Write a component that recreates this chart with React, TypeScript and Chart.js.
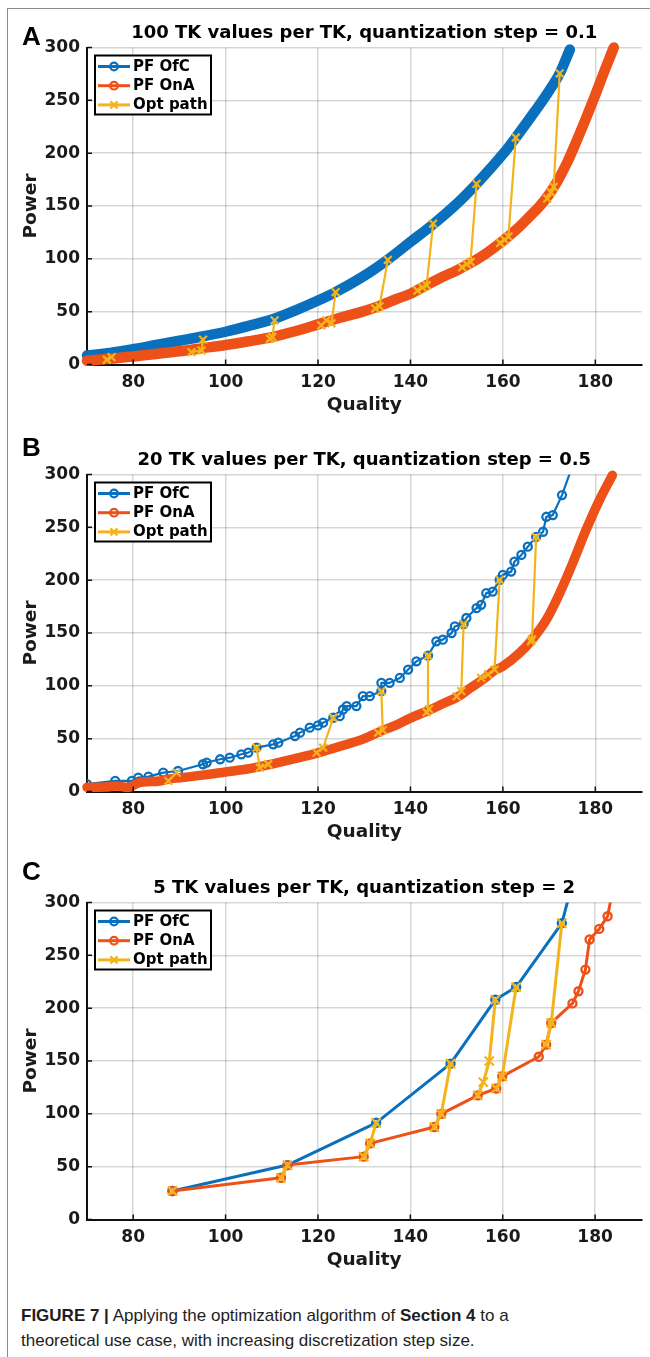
import React, { useEffect, useRef } from 'react';
import { Chart, registerables } from 'chart.js';

Chart.register(...registerables);

type P = [number, number];

const xTicks = [80, 100, 120, 140, 160, 180];
const yTicks = [0, 50, 100, 150, 200, 250, 300];
const legendLabels = ['PF OfC', 'PF OnA', 'Opt path'];
const panelTitles = [
  '100 TK values per TK, quantization step = 0.1',
  '20 TK values per TK, quantization step = 0.5',
  '5 TK values per TK, quantization step = 2',
];
const panelLetters = ['A', 'B', 'C'];

// Panel A (100 TK values per TK)
const ofcA: P[] = [
  [70, 8.5], [75, 11], [80, 14.5], [85, 18.5], [90, 22.5], [95, 26.5], [100, 31], [105, 36.5],
  [110, 42.5], [115, 51], [120, 60.5], [124, 69], [130, 84], [135, 99], [140, 116], [145, 133],
  [150, 152], [154.3, 171], [160, 199], [162.8, 214.8], [167, 240], [170, 259], [172.3, 275.5], [174.5, 298],
];
const onaA: P[] = [
  [70, 3.5], [75, 5.5], [80, 7.5], [85, 10], [90, 12.5], [95, 15.5], [100, 18.5], [105, 22],
  [110, 26], [115, 31.5], [120, 38], [125, 44.5], [130, 50.5], [133, 55], [137, 62], [140, 67],
  [143, 74], [147, 83], [150, 89], [153, 96], [156, 104], [160, 117], [163, 128], [166, 141],
  [168, 150], [170, 161], [172, 175], [174, 192], [176, 212], [178, 233], [180, 255], [182, 278], [184, 300],
];
const optA: P[][] = [
  [[74.3, 4.5], [75.3, 7]],
  [[92.6, 11.7], [94.8, 13.3], [95.1, 23.5]],
  [[109.6, 24.4], [110.1, 26], [110.6, 41.7]],
  [[120.7, 37], [121.8, 41.7], [122.9, 39], [123.8, 68.5]],
  [[132.4, 53], [133.3, 55], [135.1, 99]],
  [[141.5, 70], [142.6, 73], [143.5, 75], [144.9, 133.3]],
  [[151.2, 92], [152.2, 95], [153, 97], [154.3, 171]],
  [[159.4, 115], [160.4, 118], [161.2, 121], [162.8, 214.8]],
  [[169.6, 157], [170.4, 163], [171, 168], [172.3, 275.5]],
];

// Panel B (20 TK values per TK)
const ofcB: P[] = [
  [70, 7], [76.1, 10], [79.7, 10], [81.1, 13.2], [83.3, 14.1], [86.5, 17.9], [89.7, 19.4],
  [95.1, 25.8], [95.9, 27.4], [98.8, 30.5], [100.9, 32], [103.4, 35.2], [104.9, 36.8], [106.7, 41.5],
  [110.3, 44.6], [111.4, 46.2], [115, 52.5], [116.1, 55.7], [118.2, 60.4], [120, 62.5], [121.1, 65.1],
  [123.3, 69.8], [124.7, 71.3], [125.4, 77.6], [126.2, 80.8], [128.3, 80.8], [129.7, 90.2], [131.2, 90.2],
  [133.7, 95], [133.7, 102.8], [135.5, 102.8], [137.7, 107.5], [139.5, 115.4], [141.3, 123.2], [143.8, 128.6],
  [145.6, 142.1], [147, 143.7], [148.9, 150], [149.6, 156.2], [151.5, 158.5], [152.1, 164.2], [154.3, 173.6],
  [155.3, 176.7], [156.4, 187.7], [157.8, 189.2], [159.3, 200.3], [160, 205], [161.8, 208.1], [162.5, 217.5],
  [164, 223.9], [165.4, 231.7], [167.2, 241], [168.7, 245.8], [169.4, 260], [170.8, 261.6], [172.8, 280.5],
  [175.6, 315],
];
const onaB: P[] = [
  [70, 4], [75, 4.5], [76.1, 5.3], [78.9, 3.8], [81, 8], [85.8, 10], [87.9, 12], [90.1, 13],
  [95, 15.5], [100, 18.5], [105, 21.5], [110, 26], [115, 31], [120, 36.5], [125, 43], [130, 50],
  [133.5, 57], [137, 63], [140, 69.5], [143.8, 76.5], [147, 83], [150.6, 90.5], [153, 98], [155.7, 106],
  [158, 114], [160, 118.5], [163.6, 131], [166.3, 143.7], [169.4, 162.5], [172.3, 187.7], [175.1, 216],
  [178, 247.5], [180.9, 275.8], [183.7, 299.3],
];
const optB: P[][] = [
  [[87.6, 10], [89.4, 17.9]],
  [[106.7, 41.5], [107.4, 22.6], [109.2, 25.8]],
  [[119.7, 36.8], [121.1, 41.5], [123.3, 69.8]],
  [[133, 55.7], [134, 58], [133.7, 95]],
  [[143.5, 75], [144, 78], [143.8, 128.6]],
  [[150, 90], [151, 95], [151.5, 158.5]],
  [[155.3, 107.5], [156.8, 110.7], [158.2, 115.4], [159.3, 200.3]],
  [[166.1, 142], [166.3, 144], [167.2, 241]],
];

// Panel C (5 TK values per TK)
const ofcC: P[] = [
  [88.5, 27], [113.4, 51.5], [132.6, 91.5], [148.7, 147.5], [158.4, 208], [162.9, 220], [172.8, 280.5], [175.8, 330],
];
const onaC: P[] = [
  [88.5, 27], [112, 39.5], [113.4, 51.5], [129.9, 59.5], [131.3, 72], [145.2, 87.5], [146.7, 100],
  [154.6, 117.5], [158.6, 124], [159.9, 135.5], [167.8, 154], [169.4, 165.5], [170.5, 186], [175.1, 204.5],
  [176.4, 216], [177.9, 236.5], [178.8, 265], [180.9, 275], [182.7, 287], [184.2, 320],
];
const optC: P[][] = [
  [[88.5, 27]],
  [[112, 39.5], [113.4, 51.5]],
  [[129.9, 59.5], [131.3, 72], [132.6, 91.5]],
  [[145.2, 87.5], [146.7, 100], [148.7, 147.5]],
  [[154.6, 117.5], [155.8, 130], [157.1, 150], [158.4, 208]],
  [[158.6, 124], [159.9, 135.5], [162.9, 220]],
  [[169.4, 165.5], [170.5, 186], [172.8, 280.5]],
];

const BLUE = '#0A70BE';
const ORANGE = '#EE5118';
const YELLOW = '#F4B31A';
const FONT = '"DejaVu Sans", "Noto Sans", sans-serif';
const TEXT = '#1a1a1a';

const toXY = (pts: P[]) => pts.map(([x, y]) => ({ x, y }));
const pathData = (segs: P[][]) => {
  const out: { x: number; y: number | null }[] = [];
  segs.forEach((s, i) => {
    if (i > 0) out.push({ x: s[0][0], y: null });
    s.forEach(([x, y]) => out.push({ x, y }));
  });
  return out;
};

const decorPlugin = {
  id: 'decor',
  afterDatasetsDraw(chart: any) {
    const { ctx, chartArea: a, scales } = chart;
    const xs = scales.x;
    const ys = scales.y;
    ctx.save();
    ctx.strokeStyle = '#111';
    ctx.lineWidth = 1.5;
    ctx.beginPath();
    xTicks.forEach((v) => {
      const px = xs.getPixelForValue(v);
      ctx.moveTo(px, a.bottom);
      ctx.lineTo(px, a.bottom - 5);
    });
    yTicks.forEach((v) => {
      const py = ys.getPixelForValue(v);
      ctx.moveTo(a.left, py);
      ctx.lineTo(a.left + 5, py);
    });
    ctx.stroke();

    const bx = a.left + 8;
    const by = a.top + 8;
    const bw = 116;
    const bh = 59;
    ctx.fillStyle = '#fff';
    ctx.fillRect(bx, by, bw, bh);
    ctx.lineWidth = 2;
    ctx.strokeStyle = '#000';
    ctx.strokeRect(bx, by, bw, bh);
    const cols = [BLUE, ORANGE, YELLOW];
    legendLabels.forEach((lab, i) => {
      const cy = by + 11 + i * 19.2;
      ctx.strokeStyle = cols[i];
      ctx.lineWidth = 3;
      ctx.beginPath();
      ctx.moveTo(bx + 3, cy);
      ctx.lineTo(bx + 35, cy);
      ctx.stroke();
      const mx = bx + 19;
      ctx.lineWidth = 2.2;
      ctx.beginPath();
      if (i < 2) {
        ctx.arc(mx, cy, 3.8, 0, Math.PI * 2);
      } else {
        ctx.moveTo(mx - 3.5, cy - 3.5);
        ctx.lineTo(mx + 3.5, cy + 3.5);
        ctx.moveTo(mx + 3.5, cy - 3.5);
        ctx.lineTo(mx - 3.5, cy + 3.5);
      }
      ctx.stroke();
      ctx.fillStyle = '#000';
      ctx.font = `bold 15px ${FONT}`;
      ctx.textBaseline = 'middle';
      ctx.textAlign = 'left';
      ctx.fillText(lab, bx + 38, cy + 0.5);
    });
    ctx.restore();
  },
};

type Variant = 'A' | 'B' | 'C';

function Panel({ idx, ofc, ona, opt, variant, top }: { idx: number; ofc: P[]; ona: P[]; opt: P[][]; variant: Variant; top: number }) {
  const ref = useRef<HTMLCanvasElement | null>(null);
  useEffect(() => {
    if (!ref.current) return;
    const hollow = 'rgba(0,0,0,0)';
    const ofcStyle =
      variant === 'A'
        ? { borderWidth: 10.5, pointRadius: 0, clip: 8, cubicInterpolationMode: 'monotone' }
        : variant === 'B'
        ? { borderWidth: 2.2, pointRadius: 4, pointBorderWidth: 2.3, pointBackgroundColor: hollow }
        : { borderWidth: 3, pointRadius: 4, pointBorderWidth: 2.4, pointBackgroundColor: hollow };
    const onaStyle =
      variant === 'C'
        ? { borderWidth: 3, pointRadius: 4, pointBorderWidth: 2.4, pointBackgroundColor: hollow }
        : { borderWidth: variant === 'A' ? 10.5 : 9.5, pointRadius: 0, clip: 8, cubicInterpolationMode: 'monotone' };
    const chart = new Chart(ref.current, {
      type: 'scatter',
      data: {
        datasets: [
          {
            label: legendLabels[2],
            data: pathData(opt) as any,
            showLine: true,
            spanGaps: false,
            borderColor: YELLOW,
            backgroundColor: YELLOW,
            borderWidth: variant === 'C' ? 3 : 2.2,
            pointStyle: 'crossRot',
            pointRadius: variant === 'C' ? 6.5 : 5.5,
            pointBorderWidth: 2.2,
            pointBorderColor: YELLOW,
            clip: 8,
          } as any,
          {
            label: legendLabels[1],
            data: toXY(ona),
            showLine: true,
            borderColor: ORANGE,
            pointBorderColor: ORANGE,
            borderCapStyle: 'round',
            borderJoinStyle: 'round',
            ...onaStyle,
          } as any,
          {
            label: legendLabels[0],
            data: toXY(ofc),
            showLine: true,
            borderColor: BLUE,
            pointBorderColor: BLUE,
            borderCapStyle: 'round',
            borderJoinStyle: 'round',
            ...ofcStyle,
          } as any,
        ],
      },
      options: {
        animation: false,
        responsive: false,
        devicePixelRatio: 1,
        layout: { padding: { left: 0, right: 8.5, top: 0, bottom: 0 } },
        plugins: {
          legend: { display: false },
          tooltip: { enabled: false },
          title: {
            display: true,
            text: panelTitles[idx],
            color: '#000',
            fullSize: false,
            font: { family: FONT, size: 18, weight: 'bold' },
            padding: { top: 22.2, bottom: 3.7 },
          },
        },
        scales: {
          x: {
            type: 'linear',
            min: 70,
            max: 190,
            afterBuildTicks: (s: any) => {
              s.ticks = xTicks.map((v) => ({ value: v }));
            },
            afterFit: (s: any) => {
              s.height = 55.5;
            },
            ticks: {
              color: TEXT,
              font: { family: FONT, size: 17, weight: 'bold' },
              padding: 8,
              maxRotation: 0,
              autoSkip: false,
            },
            grid: { color: 'rgba(0,0,0,0.16)', lineWidth: 1.5, drawTicks: false },
            border: { display: true, color: '#111', width: 2 },
            title: {
              display: true,
              text: 'Quality',
              color: TEXT,
              font: { family: FONT, size: 18.5, weight: 'bold' },
              padding: { top: 0, bottom: 4 },
            },
          },
          y: {
            type: 'linear',
            min: 0,
            max: 300,
            afterBuildTicks: (s: any) => {
              s.ticks = yTicks.map((v) => ({ value: v }));
            },
            afterFit: (s: any) => {
              s.width = 87;
            },
            ticks: {
              color: TEXT,
              font: { family: FONT, size: 17, weight: 'bold' },
              padding: 7,
              autoSkip: false,
            },
            grid: { color: 'rgba(0,0,0,0.16)', lineWidth: 1.5, drawTicks: false },
            border: { display: true, color: '#111', width: 2 },
            title: {
              display: true,
              text: 'Power',
              color: TEXT,
              font: { family: FONT, size: 18.5, weight: 'bold' },
              padding: { top: 20, bottom: 0 },
            },
          },
        },
      } as any,
      plugins: [decorPlugin],
    });
    return () => chart.destroy();
  }, [idx, ofc, ona, opt, variant]);

  return (
    <canvas
      ref={ref}
      width={650}
      height={420}
      style={{ position: 'absolute', left: 0, top, width: 650, height: 420 }}
    />
  );
}

const letterStyle = (top: number): React.CSSProperties => ({
  position: 'absolute',
  left: 22,
  top,
  fontFamily: '"Liberation Sans", Arial, sans-serif',
  fontSize: 26,
  fontWeight: 'bold',
  lineHeight: '26px',
  color: '#000',
});

export default function App() {
  return (
    <div
      style={{
        position: 'absolute',
        left: 0,
        top: 0,
        width: 650,
        height: 1357,
        overflow: 'hidden',
        background: '#fff',
      }}
    >
      <div
        style={{
          position: 'absolute',
          left: 7,
          top: 8,
          width: 700,
          height: 1400,
          borderTop: '1.5px solid #8c8c8c',
          borderLeft: '1.5px solid #8c8c8c',
        }}
      />
      <Panel idx={0} ofc={ofcA} ona={onaA} opt={optA} variant="A" top={0} />
      <Panel idx={1} ofc={ofcB} ona={onaB} opt={optB} variant="B" top={427} />
      <Panel idx={2} ofc={ofcC} ona={onaC} opt={optC} variant="C" top={855} />
      <div style={letterStyle(23)}>{panelLetters[0]}</div>
      <div style={letterStyle(434)}>{panelLetters[1]}</div>
      <div style={letterStyle(858)}>{panelLetters[2]}</div>
      <div
        style={{
          position: 'absolute',
          left: 21,
          top: 1303,
          width: 620,
          fontFamily: '"Liberation Sans", Arial, sans-serif',
          fontSize: 17,
          lineHeight: '25px',
          color: '#1e1e1e',
        }}
      >
        <b>FIGURE 7 |</b> Applying the optimization algorithm of <b>Section 4</b> to a
        <br />
        theoretical use case, with increasing discretization step size.
      </div>
    </div>
  );
}
